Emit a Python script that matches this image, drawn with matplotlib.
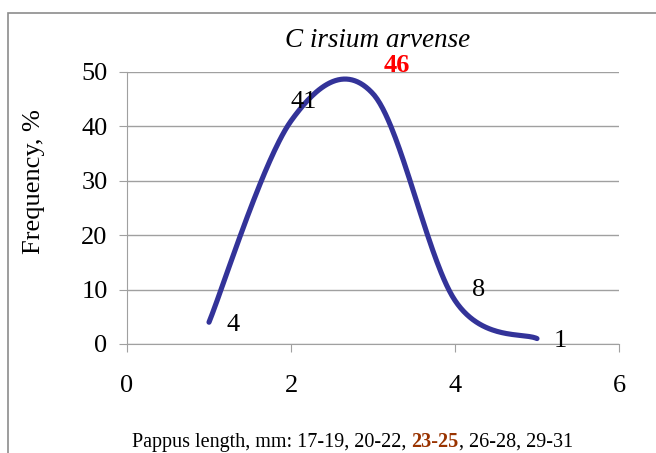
import matplotlib.pyplot as plt
import numpy as np
from matplotlib.patches import Rectangle

plt.rcParams['font.family'] = ['Liberation Serif', 'DejaVu Serif']

# data
x_pos = [1, 2, 3, 4, 5]
freq = [4, 41, 46, 8, 1]
point_labels = ['4', '41', '46', '8', '1']
label_offsets = [(17, -6), (9, 9), (17, 16), (17, 3.5), (17, -6)]  # points, baseline
label_colors = ['black', 'black', 'red', 'black', 'black']
label_weights = ['normal', 'normal', 'bold', 'normal', 'normal']
xlabel_parts = ['Pappus length, mm: 17-19, 20-22, ', '23-25', ', 26-28, 29-31']
xlabel_colors = ['black', '#993300', 'black']
xlabel_weights = ['normal', 'bold', 'normal']


# Excel-like smoothed line: cubic Bezier through the points (Catmull-Rom tangents)
def smooth_curve(xs, ys, n=60):
    p = np.column_stack([xs, ys]).astype(float)
    out = []
    for i in range(len(p) - 1):
        p0 = p[i - 1] if i > 0 else p[i]
        p3 = p[i + 2] if i + 2 < len(p) else p[i + 1]
        c1 = p[i] + (p[i + 1] - p0) / 6
        c2 = p[i + 1] - (p3 - p[i]) / 6
        t = np.linspace(0, 1, n)[:, None]
        seg = ((1 - t) ** 3 * p[i] + 3 * (1 - t) ** 2 * t * c1
               + 3 * (1 - t) * t ** 2 * c2 + t ** 3 * p[i + 1])
        out.append(seg)
    out = np.vstack(out)
    return out[:, 0], out[:, 1]


W, H = 656, 453
fig = plt.figure(figsize=(W / 100, H / 100), dpi=100)
ax = fig.add_axes([127 / W, 1 - 344 / H, 492 / W, 272 / H])

# outer chart border (cut off on right / bottom like the source)
fig.patches.append(Rectangle((8 / W, -0.1), 1.0, 1 - 13 / H + 0.1,
                             transform=fig.transFigure, fill=False,
                             edgecolor='#8c8c8c', linewidth=1.2))

sx, sy = smooth_curve(x_pos, freq)
ax.plot(sx, sy, color='#333399', linewidth=3.7, solid_capstyle='round', zorder=3)

for xv, yv, s, off, c, w in zip(x_pos, freq, point_labels, label_offsets,
                                label_colors, label_weights):
    ax.annotate(s, (xv, yv), xytext=off, textcoords='offset points',
                ha='center', va='baseline', fontsize=19, color=c, fontweight=w,
                zorder=4, annotation_clip=False)

ax.set_xlim(0, 6)
ax.set_ylim(0, 50)
ax.set_xticks([0, 2, 4, 6])
ax.set_yticks([0, 10, 20, 30, 40, 50])
ax.yaxis.grid(True, color='#a0a0a0', linewidth=1)
ax.set_axisbelow(True)
for side in ['top', 'right']:
    ax.spines[side].set_visible(False)
for side in ['left', 'bottom']:
    ax.spines[side].set_color('#a0a0a0')
ax.tick_params(direction='out', length=6, color='#a0a0a0', labelsize=19)
ax.tick_params(axis='x', pad=16)
ax.tick_params(axis='y', pad=8)

fig.text(34 / W, 1 - 182 / H, 'Frequency, %', rotation=90, ha='center',
         va='center', fontsize=19)
fig.text(378 / W, 1 - 47 / H, 'C irsium arvense', ha='center', va='baseline',
         fontsize=19.5, style='italic')

# multi-coloured x label, pieces chained one after another
prev = ax.annotate(xlabel_parts[0], xy=(132 / W, 1 - 447 / H),
                   xycoords='figure fraction', ha='left', va='baseline',
                   fontsize=14.5, color=xlabel_colors[0],
                   fontweight=xlabel_weights[0], annotation_clip=False)
for s, c, w in zip(xlabel_parts[1:], xlabel_colors[1:], xlabel_weights[1:]):
    prev = ax.annotate(s, xy=(1, 0), xycoords=prev, ha='left', va='bottom',
                       fontsize=14.5, color=c, fontweight=w, annotation_clip=False)

fig.savefig('out.png', dpi=100)
